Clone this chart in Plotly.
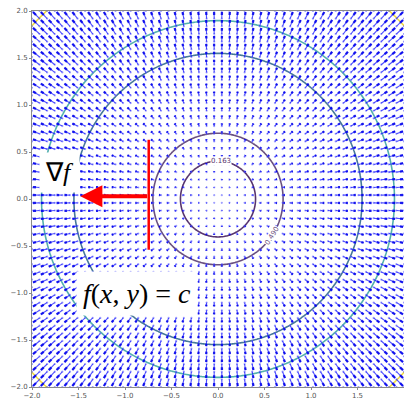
import numpy as np
import plotly.graph_objects as go

# f(x, y) = x^2 + y^2 sampled on a regular grid; gradient field drawn as a quiver
n_arrows = 50
grid_lo, grid_hi = -2.0, 2.0
arrow_scale = 0.0185

# contour levels of f and their line colours (viridis-like, faded)
levels = [0.163, 0.49, 2.4, 3.6, 7.4]
level_colors = ["#58356e", "#6a5080", "#46789a", "#52b0ae", "#f2dc3c"]
# inline label for a level: (angle on the circle in degrees, text rotation)
level_labels = {0: (85, 0), 1: (-34, -58)}

x_ticks = [-2.0, -1.5, -1.0, -0.5, 0.0, 0.5, 1.0, 1.5, 2.0]
tick_text = ["−2.0", "−1.5", "−1.0", "−0.5", "0.0", "0.5", "1.0", "1.5", "2.0"]


def f(x, y):
    return x ** 2 + y ** 2


def grad_f(x, y):
    return 2 * x, 2 * y


g = np.linspace(grid_lo, grid_hi, n_arrows)
GX, GY = np.meshgrid(g, g)
U, V = grad_f(GX, GY)

shaft_x, shaft_y, head_x, head_y = [], [], [], []
for x0, y0, u, v in zip(GX.ravel(), GY.ravel(), U.ravel(), V.ravel()):
    dx, dy = u * arrow_scale, v * arrow_scale
    x1, y1 = x0 + dx, y0 + dy
    shaft_x += [x0, x1, None]
    shaft_y += [y0, y1, None]
    xm, ym = x0 + 0.55 * dx, y0 + 0.55 * dy
    head_x += [xm, x1, None]
    head_y += [ym, y1, None]

fig = go.Figure()

# contour lines of f
cg = np.linspace(-2.05, 2.05, 300)
CX, CY = np.meshgrid(cg, cg)
CZ = f(CX, CY)
for lv, col in zip(levels, level_colors):
    fig.add_trace(go.Contour(
        x=cg, y=cg, z=CZ,
        contours=dict(start=lv, end=lv, size=1, coloring="lines", showlabels=False),
        colorscale=[[0, col], [1, col]],
        line=dict(width=1.6),
        showscale=False, hoverinfo="skip",
    ))

# tail dots (visible where arrows are very short)
fig.add_trace(go.Scatter(
    x=GX.ravel(), y=GY.ravel(), mode="markers",
    marker=dict(size=2.2, color="rgba(90,90,255,0.55)"),
    hoverinfo="skip", showlegend=False,
))
fig.add_trace(go.Scatter(
    x=shaft_x, y=shaft_y, mode="lines",
    line=dict(color="rgba(20,20,255,0.75)", width=1.1),
    hoverinfo="skip", showlegend=False,
))
fig.add_trace(go.Scatter(
    x=head_x, y=head_y, mode="lines",
    line=dict(color="rgba(0,0,235,0.85)", width=2.3),
    hoverinfo="skip", showlegend=False,
))

# inline contour labels, placed on the level circle
for i, (ang, rot) in level_labels.items():
    r = np.sqrt(levels[i])
    t = np.deg2rad(ang)
    fig.add_annotation(x=r * np.cos(t), y=r * np.sin(t), xref="x", yref="y",
                       showarrow=False, text=f"{levels[i]:.3f}", textangle=rot,
                       bgcolor="white", borderpad=0,
                       font=dict(size=7, color=level_colors[i], family="DejaVu Sans"))

# level line through the point and the gradient arrow at it
fig.add_shape(type="line", x0=-0.745, x1=-0.745, y0=-0.54, y1=0.63,
              line=dict(color="#ff0000", width=2.5))
fig.add_annotation(x=-1.48, y=0.03, ax=-0.745, ay=0.03,
                   xref="x", yref="y", axref="x", ayref="y",
                   showarrow=True, arrowhead=2, arrowsize=1.1,
                   arrowwidth=4, arrowcolor="#ff0000", text="")

fig.add_annotation(x=-1.70, y=0.28, xref="x", yref="y", showarrow=False,
                   text="∇<i>f</i>", bgcolor="white", borderpad=5,
                   font=dict(family="Liberation Serif", size=26, color="black"))
fig.add_annotation(x=-0.87, y=-1.0, xref="x", yref="y", showarrow=False,
                   text="<i>f</i>(<i>x</i>, <i>y</i>) = <i>c</i>", bgcolor="white",
                   borderpad=6,
                   font=dict(family="Liberation Serif", size=28, color="black"))

axis_common = dict(
    range=[-2, 2], tickvals=x_ticks, ticktext=tick_text,
    showgrid=False, zeroline=False, showline=True, mirror=True,
    linecolor="#8a8a8a", linewidth=1, ticks="outside", ticklen=2,
    tickcolor="#8a8a8a", tickfont=dict(size=7, color="#555555", family="DejaVu Sans"),
)
fig.update_xaxes(**axis_common)
fig.update_yaxes(**axis_common)

fig.update_layout(
    width=404, height=401,
    margin=dict(l=32, r=0, t=11, b=14),
    plot_bgcolor="white", paper_bgcolor="white",
    showlegend=False,
)

fig.write_html("out.html")
